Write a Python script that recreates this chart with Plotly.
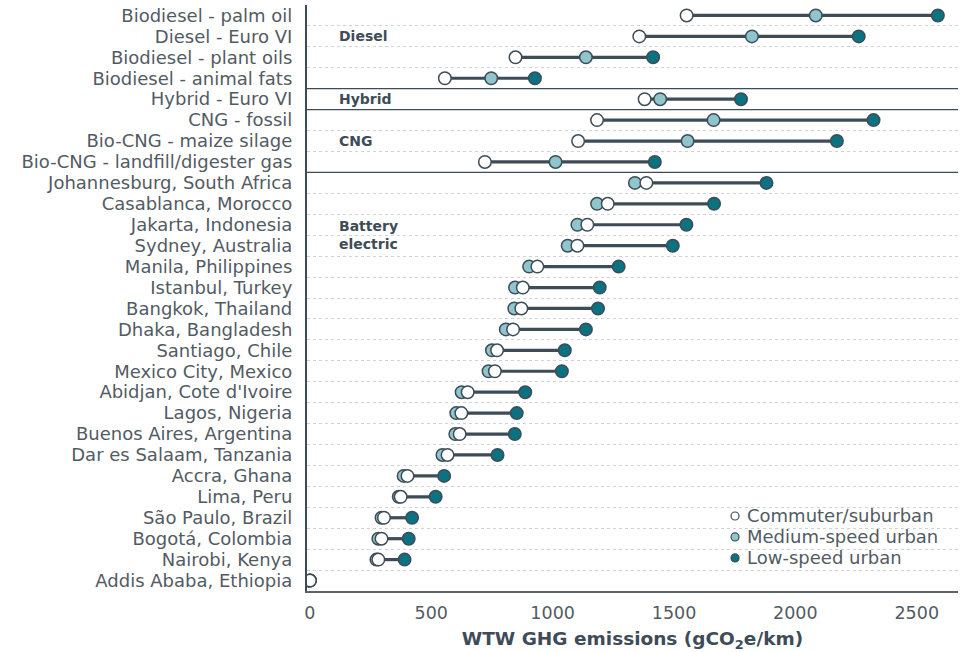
import plotly.graph_objects as go

# Vehicle technologies / cities, top to bottom
categories = [
    "Biodiesel - palm oil", "Diesel - Euro VI", "Biodiesel - plant oils",
    "Biodiesel - animal fats", "Hybrid - Euro VI", "CNG - fossil",
    "Bio-CNG - maize silage", "Bio-CNG - landfill/digester gas",
    "Johannesburg, South Africa", "Casablanca, Morocco", "Jakarta, Indonesia",
    "Sydney, Australia", "Manila, Philippines", "Istanbul, Turkey",
    "Bangkok, Thailand", "Dhaka, Bangladesh", "Santiago, Chile",
    "Mexico City, Mexico", "Abidjan, Cote d'Ivoire", "Lagos, Nigeria",
    "Buenos Aires, Argentina", "Dar es Salaam, Tanzania", "Accra, Ghana",
    "Lima, Peru", "São Paulo, Brazil", "Bogotá, Colombia", "Nairobi, Kenya",
    "Addis Ababa, Ethiopia",
]

# WTW GHG emissions (gCO2e/km) per drive cycle
commuter = [1552, 1357, 847, 556, 1379, 1183, 1105, 721,
            1386, 1227, 1143, 1102, 937, 877, 871, 837, 771, 762,
            650, 624, 617, 567, 402, 374, 305, 295, 282, 0]
medium_speed = [2084, 1821, 1137, 747, 1443, 1663, 1556, 1012,
                1339, 1183, 1102, 1062, 903, 845, 842, 807, 750, 736,
                625, 603, 599, 546, 386, 366, 295, 282, 274, 0]
low_speed = [2587, 2261, 1414, 927, 1776, 2322, 2171, 1421,
             1881, 1665, 1551, 1495, 1272, 1194, 1187, 1137, 1050, 1038,
             887, 852, 844, 773, 553, 518, 421, 407, 390, 0]

x_ticks = [0, 500, 1000, 1500, 2000, 2500]

# Group labels: (text, row index)
groups = [("Diesel", 1), ("Hybrid", 4), ("CNG", 6), ("Battery<br>electric", 10.5)]
group_breaks = [3.5, 4.5, 7.5]

FONT = "DejaVu Sans"
DARK = "#3e4c57"
TEXT = "#525b63"
MID_FILL = "#8fc6cd"
LOW_FILL = "#0b7282"

rows = list(range(len(categories)))

# Range lines from min to max of each row
lx, ly = [], []
for i in rows:
    vals = [commuter[i], medium_speed[i], low_speed[i]]
    lx += [min(vals), max(vals), None]
    ly += [i, i, None]

fig = go.Figure()
fig.add_trace(go.Scatter(x=lx, y=ly, mode="lines",
                         line=dict(color=DARK, width=3.2),
                         showlegend=False, hoverinfo="skip"))

series = [
    ("Low-speed urban", low_speed, LOW_FILL),
    ("Medium-speed urban", medium_speed, MID_FILL),
    ("Commuter/suburban", commuter, "white"),
]
for name, vals, fill in series:
    fig.add_trace(go.Scatter(
        x=vals, y=rows, mode="markers", name=name, showlegend=False,
        marker=dict(size=12.5, color=fill, line=dict(color=DARK, width=1.5)),
    ))

shapes = []
for yb in group_breaks:
    shapes.append(dict(type="line", xref="paper", x0=0, x1=1, yref="y",
                       y0=yb, y1=yb, line=dict(color=DARK, width=1.2)))

annotations = []
for text, r in groups:
    annotations.append(dict(
        x=0.046, xref="paper", y=r, yref="y", text=f"<b>{text}</b>",
        showarrow=False, xanchor="left", yanchor="middle", align="left",
        font=dict(family=FONT, size=14, color=DARK),
    ))

# Compact legend in the lower right corner
legend_x, legend_y0, legend_dy = 0.6575, 0.128, 0.0358
for k, (name, vals, fill) in enumerate(reversed(series)):
    yk = legend_y0 - k * legend_dy
    shapes.append(dict(type="circle", xref="paper", yref="paper",
                       xsizemode="pixel", ysizemode="pixel",
                       xanchor=legend_x, yanchor=yk,
                       x0=-4, x1=4, y0=-4, y1=4,
                       fillcolor=fill, line=dict(color=DARK, width=1.2)))
    annotations.append(dict(
        x=legend_x + 0.0155, xref="paper", y=yk, yref="paper", text=name,
        showarrow=False, xanchor="left", yanchor="middle",
        font=dict(family=FONT, size=18, color=TEXT),
    ))

fig.update_layout(
    width=964, height=652,
    margin=dict(l=307, r=6, t=5, b=61),
    plot_bgcolor="white", paper_bgcolor="white",
    font=dict(family=FONT, color=TEXT),
    shapes=shapes, annotations=annotations,
    showlegend=False,
    xaxis=dict(
        range=[-12, 2670], tickvals=x_ticks,
        showgrid=False, zeroline=False, showline=True,
        linecolor="#5a646c", linewidth=1.5,
        ticks="", tickfont=dict(size=17.5, color=TEXT),
        ticklabelstandoff=5,
        title=dict(text="<b>WTW GHG emissions (gCO<sub>2</sub>e/km)</b>",
                   font=dict(size=18.5, color=DARK), standoff=12),
    ),
    yaxis=dict(
        range=[len(categories) - 0.5, -0.5],
        tickvals=rows, ticktext=categories,
        showgrid=False, zeroline=False, showline=True,
        linecolor=DARK, linewidth=2.2,
        ticks="", tickfont=dict(size=18, color=TEXT),
        ticklabelstandoff=9,
        minor=dict(tickvals=[i + 0.5 for i in rows[:-1]], showgrid=True,
                   gridcolor="#d0d3d6", griddash="dot", gridwidth=1,
                   ticks=""),
    ),
)

fig.write_html("out.html")
